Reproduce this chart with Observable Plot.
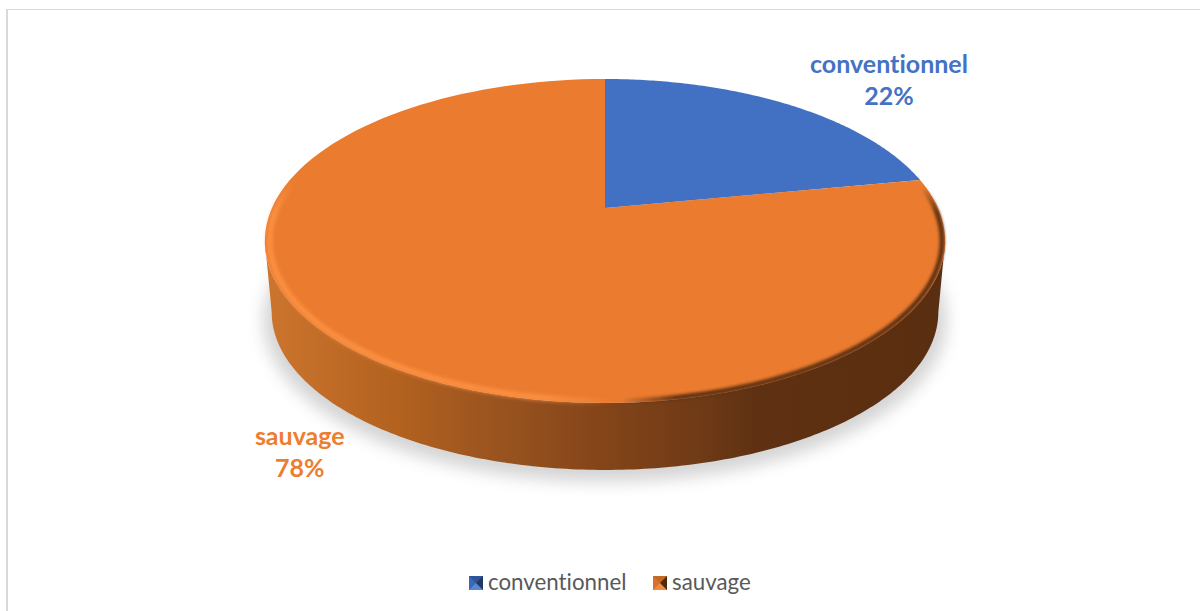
<!DOCTYPE html>
<html lang="fr">
<head>
<meta charset="utf-8">
<script src="https://cdn.jsdelivr.net/npm/d3@7"></script>
<script src="https://cdn.jsdelivr.net/npm/@observablehq/plot@0.6"></script>
<style>
  html, body { margin: 0; padding: 0; background: #fff; overflow: hidden; }
  #page { position: relative; width: 1200px; height: 611px; overflow: hidden; font-family: Lato, sans-serif; font-variant-ligatures: none; }
  #frame { position: absolute; left: 6px; top: 9px; width: 1300px; height: 700px; border: 1px solid #d9d9d9; border-left-width: 2px; }
  #chart { position: absolute; left: 0; top: 0; }
  #chart svg { display: block; }
  #chart text { font-variant-ligatures: none; }
  .legend-item { position: absolute; top: 568px; height: 28px; line-height: 28px; font-size: 22.3px; color: #595959; white-space: nowrap; }
  .swatch { position: absolute; top: 8px; left: 0; width: 0; height: 0; border-style: solid; border-width: 7px; }
  .legend-item span.t { position: absolute; left: 19px; top: 0; }
</style>
</head>
<body>
<div id="page">
  <div id="frame"></div>
  <div id="chart"></div>
  <div id="legend"></div>
</div>
<script>
const categories = ["conventionnel", "sauvage"];
const shares = [22, 78];
const sliceColors = ["#4270C2", "#EA7B2F"];
const labelColors = ["#4472C4", "#ED7D31"];
const swatchEdges = [
  ["#2f5597", "#1f3864", "#5a86d0", "#3a68b8"],
  ["#c46a25", "#4d2a0d", "#f08a40", "#d8722a"]
];
const wallStops = [[0, "#CC752E"], [0.2, "#B2611F"], [0.35, "#98531F"], [0.49, "#854519"], [0.64, "#6F3A16"], [0.72, "#5F3112"], [1, "#5A2E10"]];
const brightStops = [[0, "#FF9445", 0], [1, "#FF9445", 1]];
const darkStops = [[0, "#5F3112", 0], [1, "#5F3112", 1]];

// Perspective view of a flat disc: share of the turn -> page position
const H = 560, W = 1200;
const persp = 0.2037;
function face(turn, r = 1) {
  const a = turn * 2 * Math.PI, u = r * Math.sin(a), v = r * Math.cos(a), w = 1 + persp * v;
  return { x: 605 + 333 * u / w, y: (208 - 112.9 * v) / w };
}
function base(turn, grow = 1, shift = 0) {
  const p = face(turn);
  return { x: 605 + (p.x - 605) * 0.98 * grow, y: 312 + shift + (p.y - 241) * 0.975 * grow };
}
const steps = n => d3.range(n + 1).map(i => i / n);

// Slices
let start = 0;
const total = d3.sum(shares);
const slices = [], labels = [];
categories.forEach((c, i) => {
  const f = shares[i] / total;
  steps(120).forEach(t => {
    const p = face(start + f * t);
    slices.push({ category: c, x1: 605, y1: 208, x2: p.x, y2: p.y });
  });
  const m = face(start + f / 2);
  labels.push({ category: c, share: shares[i], x: m.x, y: m.y });
  start += f;
});

// Side wall: visible from the right extreme round the front to the left extreme
const t0 = 101.75 / 360, t1 = 258.25 / 360;
const wall = steps(200).map(s => {
  const t = t0 + (t1 - t0) * s, a = face(t), b = base(t);
  return { x1: a.x, y1: a.y, x2: b.x, y2: b.y };
});
const shadow = steps(240).map(s => {
  const b = base(s, 1.025, 8);
  return { x1: 605, y1: 320, x2: b.x, y2: b.y };
});
const arc = (a, b, r) => steps(200).map(s => face(a + (b - a) * s, r));
const rimBright = arc(0.46, 0.8, 0.988);
const rimDark = arc(0.225, 0.54, 0.99);

function gradient(id, stops, x1, y1, x2, y2) {
  const defs = d3.create("svg:defs");
  const g = defs.append("linearGradient").attr("id", id)
    .attr("gradientUnits", "userSpaceOnUse")
    .attr("x1", x1).attr("y1", y1).attr("x2", x2).attr("y2", y2);
  stops.forEach(([o, c, a = 1]) => g.append("stop").attr("offset", o).attr("stop-color", c).attr("stop-opacity", a));
  return defs.node();
}

const plot = Plot.plot({
  width: W, height: H,
  margin: 0,
  x: { domain: [0, W], range: [0, W], axis: null },
  y: { domain: [0, H], range: [0, H], axis: null },
  color: { domain: categories, range: sliceColors },
  style: { background: "transparent" },
  marks: [
    () => gradient("wallFill", wallStops, 265, 0, 945, 0),
    () => gradient("rimBright", brightStops, 285, 170, 262, 203),
    () => gradient("rimDark", darkStops, 925, 185, 942, 209),
    Plot.area(shadow, { x1: "x1", y1: "y1", x2: "x2", y2: "y2", fill: "#d4d4d4", imageFilter: "blur(8px)" }),
    Plot.area(wall, { x1: "x1", y1: "y1", x2: "x2", y2: "y2", fill: "url(#wallFill)" }),
    Plot.area(slices, { x1: "x1", y1: "y1", x2: "x2", y2: "y2", z: "category", fill: "category" }),
    Plot.line(rimBright, { x: "x", y: "y", stroke: "url(#rimBright)", strokeWidth: 5, imageFilter: "blur(2.2px)" }),
    Plot.line(rimDark, { x: "x", y: "y", stroke: "url(#rimDark)", strokeWidth: 5, imageFilter: "blur(1.8px)" }),
    Plot.text([labels[0]], {
      x: "x", y: "y", dx: 100, dy: -26, text: d => `${d.category}\n${d.share}%`,
      fill: labelColors[0], fontSize: 25, fontWeight: 700, lineHeight: 1.28, fontFamily: "Lato, sans-serif"
    }),
    Plot.text([labels[1]], {
      x: "x", y: "y", dx: -54, dy: 100, text: d => `${d.category}\n${d.share}%`,
      fill: labelColors[1], fontSize: 25, fontWeight: 700, lineHeight: 1.28, fontFamily: "Lato, sans-serif"
    })
  ]
});
document.getElementById("chart").append(plot);

// Legend below the chart
const legend = document.getElementById("legend");
const legendLeft = [469, 653];
categories.forEach((c, i) => {
  const item = document.createElement("div");
  item.className = "legend-item";
  item.style.left = legendLeft[i] + "px";
  const sw = document.createElement("div");
  sw.className = "swatch";
  sw.style.borderColor = swatchEdges[i].join(" ");
  const t = document.createElement("span");
  t.className = "t";
  t.textContent = c;
  item.append(sw, t);
  legend.append(item);
});
</script>
</body>
</html>
